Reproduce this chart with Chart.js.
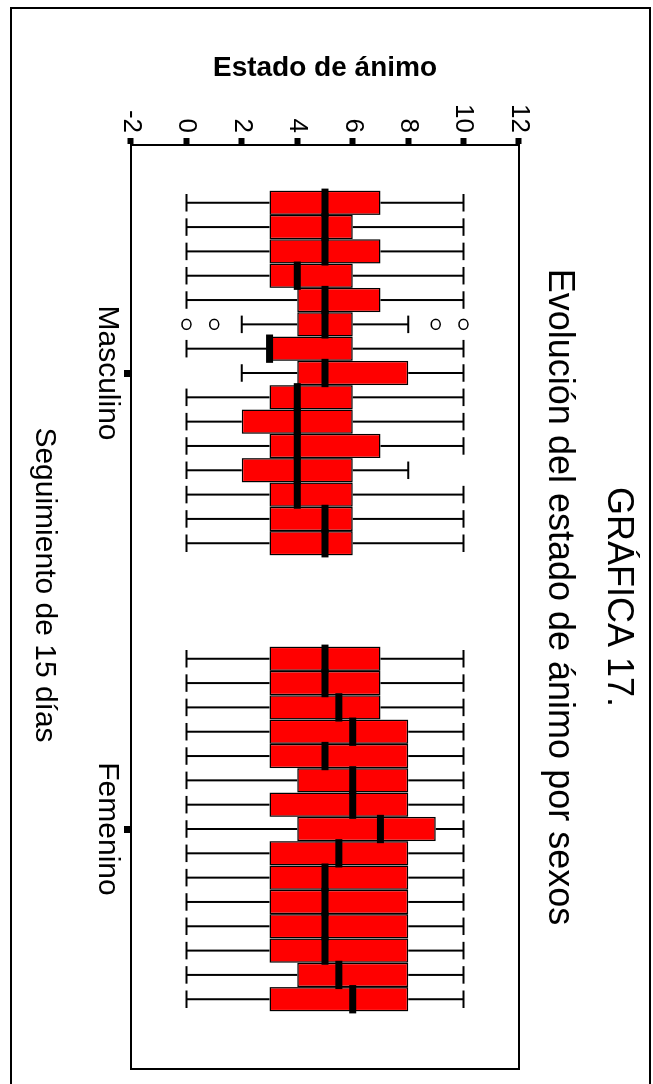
<!DOCTYPE html>
<html><head><meta charset="utf-8">
<script src="https://cdn.jsdelivr.net/npm/chart.js@4.4.1/dist/chart.umd.min.js"></script>
<style>
html,body{margin:0;padding:0;background:#fff;}
body{width:653px;height:1084px;overflow:hidden;position:relative;}
#wrap{position:absolute;left:0;top:0;width:1084px;height:653px;transform-origin:0 0;transform:translateX(653px) rotate(90deg);}
canvas{display:block;}
</style></head><body>
<div id="wrap"><canvas id="c" width="1084" height="653" style="width:1084px;height:653px"></canvas></div>
<script>
// ---- data ----
const categories = ['Masculino', 'Femenino'];
const days = ['Día 1','Día 2','Día 3','Día 4','Día 5','Día 6','Día 7','Día 8','Día 9','Día 10','Día 11','Día 12','Día 13','Día 14','Día 15'];
const yTicks = [-2, 0, 2, 4, 6, 8, 10, 12];

const mascQ1  = [3, 3, 3, 3, 4, 4, 3, 4, 3, 2, 3, 2, 3, 3, 3];
const mascQ3  = [7, 6, 7, 6, 7, 6, 6, 8, 6, 6, 7, 6, 6, 6, 6];
const mascMed = [5, 5, 5, 4, 5, 5, 3, 5, 4, 4, 4, 4, 4, 5, 5];
const mascLo  = [0, 0, 0, 0, 0, 2, 0, 2, 0, 0, 0, 0, 0, 0, 0];
const mascHi  = [10, 10, 10, 10, 10, 8, 10, 10, 10, 10, 10, 8, 10, 10, 10];

const femQ1  = [3, 3, 3, 3, 3, 4, 3, 4, 3, 3, 3, 3, 3, 4, 3];
const femQ3  = [7, 7, 7, 8, 8, 8, 8, 9, 8, 8, 8, 8, 8, 8, 8];
const femMed = [5, 5, 5.5, 6, 5, 6, 6, 7, 5.5, 5, 5, 5, 5, 5.5, 6];
const femLo  = [0, 0, 0, 0, 0, 0, 0, 0, 0, 0, 0, 0, 0, 0, 0];
const femHi  = [10, 10, 10, 10, 10, 10, 10, 10, 10, 10, 10, 10, 10, 10, 10];

// outliers: category index, day index, value
const outlierCat = [0, 0, 0, 0];
const outlierDay = [5, 5, 5, 5];
const outlierVal = [0, 1, 9, 10];

const FONT = "'Liberation Sans', Arial, sans-serif";
const stats = [
  {q1: mascQ1, q3: mascQ3, med: mascMed, lo: mascLo, hi: mascHi},
  {q1: femQ1, q3: femQ3, med: femMed, lo: femLo, hi: femHi}
];

const boxPlugin = {
  id: 'boxparts',
  afterDatasetsDraw(chart) {
    const ctx = chart.ctx, ys = chart.scales.y;
    ctx.save();
    ctx.strokeStyle = '#000';
    ctx.fillStyle = '#000';
    days.forEach((d, i) => {
      const meta = chart.getDatasetMeta(i);
      meta.data.forEach((bar, c) => {
        const s = stats[c];
        const p = bar.getProps(['x', 'width'], true);
        const x = p.x, w = p.width;
        const yQ1 = ys.getPixelForValue(s.q1[i]);
        const yQ3 = ys.getPixelForValue(s.q3[i]);
        const yLo = ys.getPixelForValue(s.lo[i]);
        const yHi = ys.getPixelForValue(s.hi[i]);
        const cap = w * 0.36;
        ctx.lineWidth = 2;
        ctx.beginPath();
        ctx.moveTo(x, yQ1); ctx.lineTo(x, yLo);
        ctx.moveTo(x, yQ3); ctx.lineTo(x, yHi);
        ctx.moveTo(x - cap, yLo); ctx.lineTo(x + cap, yLo);
        ctx.moveTo(x - cap, yHi); ctx.lineTo(x + cap, yHi);
        ctx.stroke();
      });
    });
    days.forEach((d, i) => {
      const meta = chart.getDatasetMeta(i);
      meta.data.forEach((bar, c) => {
        const s = stats[c];
        const p = bar.getProps(['x', 'width'], true);
        const yM = ys.getPixelForValue(s.med[i]);
        ctx.fillRect(p.x - p.width / 2 - 2, yM - 3.5, p.width + 4, 7);
      });
    });
    ctx.lineWidth = 1.5;
    outlierVal.forEach((v, k) => {
      const bar = chart.getDatasetMeta(outlierDay[k]).data[outlierCat[k]];
      const p = bar.getProps(['x'], true);
      const y = ys.getPixelForValue(v);
      ctx.beginPath();
      ctx.ellipse(p.x, y, 5, 4.5, 0, 0, Math.PI * 2);
      ctx.stroke();
    });
    ctx.restore();
  },
  afterDraw(chart) {
    const ctx = chart.ctx, ca = chart.chartArea;
    ctx.save();
    ctx.strokeStyle = '#000';
    ctx.lineWidth = 2;
    ctx.strokeRect(ca.left, ca.top, (ca.right + 12) - ca.left, ca.bottom - ca.top);
    ctx.strokeRect(8, 3, 1100, 639);
    ctx.fillStyle = '#000';
    ctx.textAlign = 'center';
    ctx.textBaseline = 'alphabetic';
    const cx = (ca.left + ca.right) / 2 - 4;
    ctx.font = "36px " + FONT;
    ctx.fillText('GRÁFICA 17.', cx, 45);
    ctx.fillText('Evolución del estado de ánimo por sexos', cx, 104);
    ctx.font = "30px " + FONT;
    ctx.textBaseline = 'middle';
    ctx.fillText('Seguimiento de 15 días', (ca.left + ca.right) / 2 - 16, 609);
    ctx.restore();
  }
};

new Chart(document.getElementById('c'), {
  type: 'bar',
  data: {
    labels: categories,
    datasets: days.map((d, i) => ({
      label: d,
      data: [[mascQ1[i], mascQ3[i]], [femQ1[i], femQ3[i]]],
      backgroundColor: '#ff0000',
      borderColor: '#000000',
      borderWidth: 1.5,
      borderSkipped: false,
      barPercentage: 1,
      categoryPercentage: 0.8
    }))
  },
  options: {
    responsive: false,
    devicePixelRatio: 1,
    animation: false,
    layout: { padding: { left: 54, right: 27, top: 134, bottom: 20 } },
    plugins: { legend: { display: false }, tooltip: { enabled: false }, title: { display: false } },
    scales: {
      x: {
        type: 'category',
        offset: true,
        grid: { display: true, drawOnChartArea: false, drawTicks: true, tickLength: 7, tickWidth: 7, tickColor: '#000', offset: false },
        border: { display: true, color: '#000', width: 2 },
        ticks: { color: '#000', font: { family: FONT, size: 30, lineHeight: 1 }, padding: 2, maxRotation: 0, autoSkip: false },
        title: { display: false },
        afterFit: s => { s.height = 111; }
      },
      y: {
        min: -2, max: 12,
        afterBuildTicks: s => { s.ticks = yTicks.map(v => ({ value: v })); },
        grid: { drawOnChartArea: false, drawTicks: true, tickLength: 7, tickWidth: 6, tickColor: '#000' },
        border: { display: true, color: '#000', width: 2 },
        ticks: { color: '#000', font: { family: FONT, size: 26, lineHeight: 1 }, padding: 5 },
        title: { display: true, text: 'Estado de ánimo', color: '#000', font: { family: FONT, size: 28, weight: 'bold', lineHeight: 1 }, padding: { top: 0, bottom: 0 } },
        afterFit: s => { s.width = 91; }
      }
    }
  },
  plugins: [boxPlugin]
});
</script>
</body></html>
